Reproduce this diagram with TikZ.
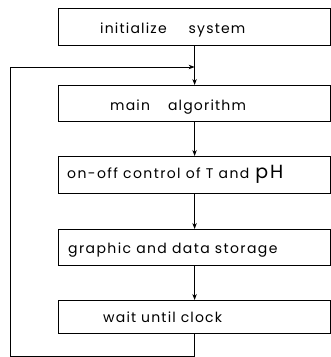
\documentclass[tikz,border=0pt]{standalone}
\usepackage{fontspec}
\setmainfont{Poppins}[LetterSpace=8.5]
\usetikzlibrary{arrows.meta}
\begin{document}
\begin{tikzpicture}[x=1pt,y=-1pt,
  box/.style={draw,line width=1.2pt,minimum width=272pt,inner sep=0pt,anchor=north west},
  lbl/.style={anchor=base west,inner sep=0pt,font=\fontsize{14}{16}\selectfont},
  flow/.style={line width=0.8pt,-{Stealth[length=6pt,width=4.5pt]}},
  plain/.style={line width=0.8pt}]
\useasboundingbox (0,0) rectangle (331,357);
\node[box,minimum height=37pt] (b1) at (58,8) {};
\node[box,minimum height=36pt] (b2) at (58,85) {};
\node[box,minimum height=37pt] (b3) at (58,156) {};
\node[box,minimum height=36pt] (b4) at (58,229) {};
\node[box,minimum height=33pt] (b5) at (58,300) {};
\node[lbl] (t1) at (100,33) {initialize\hspace{22pt}system};
\node[lbl] (t2) at (110,110) {main\hspace{18pt}algorithm};
\node[lbl] (t3) at (67,178) {\addfontfeatures{LetterSpace=10}on-off control of T and\hspace{6pt}{\fontsize{19}{21}\selectfont pH}};
\node[lbl] (t4) at (68,253) {\addfontfeatures{LetterSpace=10}graphic and data storage};
\node[lbl] (t5) at (103,322) {wait until clock};
\coordinate (lb) at (10,356);
\coordinate (lt) at (10,67);
\draw[flow] (b1.south) -- (b2.north);
\draw[flow] (b2.south) -- (b3.north);
\draw[flow] (b3.south) -- (b4.north);
\draw[flow] (b4.south) -- (b5.north);
\draw[flow] (b5.south) |- (lb) -- (lt) -- (lt -| b1.south);
\end{tikzpicture}
\end{document}
